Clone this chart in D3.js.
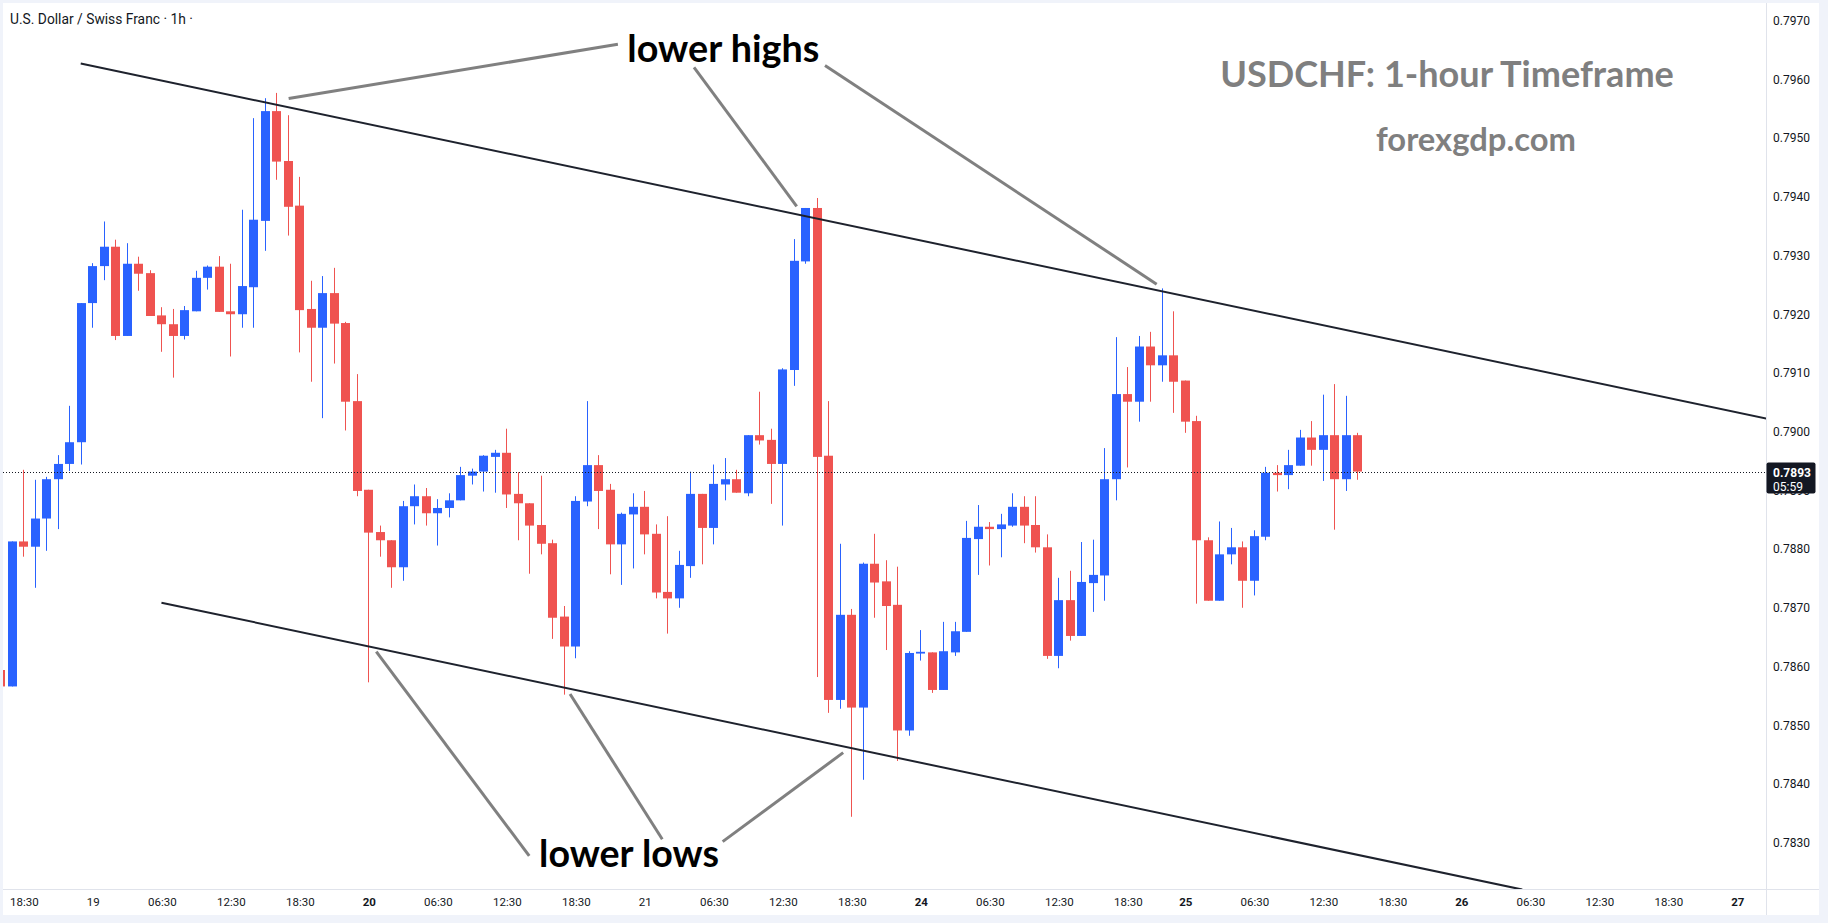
<!DOCTYPE html>
<html>
<head>
<meta charset="utf-8">
<script src="https://cdn.jsdelivr.net/npm/d3@7"></script>
<style>
  body { margin: 0; background: #f0f3fa; }
  svg { display: block; }
</style>
</head>
<body>
<script>
// hourly USDCHF candles (bar 0 is the half-hidden one at the left edge)
var opens = [
  0.78594, 0.78566, 0.78813, 0.78804, 0.78852, 0.78919, 0.78945, 0.78982, 0.79219, 0.79282,
  0.79315, 0.79163, 0.79286, 0.79270, 0.79198, 0.79183, 0.79163, 0.79205, 0.79262, 0.79281,
  0.79205, 0.79200, 0.79246, 0.79359, 0.79546, 0.79461, 0.79385, 0.79209, 0.79177, 0.79236,
  0.79185, 0.79052, 0.78901, 0.78829, 0.78815, 0.78769, 0.78873, 0.78890, 0.78861, 0.78870,
  0.78883, 0.78925, 0.78932, 0.78957, 0.78964, 0.78894, 0.78878, 0.78841, 0.78810, 0.78685,
  0.78634, 0.78881, 0.78943, 0.78901, 0.78808, 0.78859, 0.78872, 0.78826, 0.78727, 0.78716,
  0.78771, 0.78894, 0.78836, 0.78910, 0.78919, 0.78895, 0.78994, 0.78986, 0.78945, 0.79105,
  0.79290, 0.79381, 0.78959, 0.78543, 0.78688, 0.78530, 0.78775, 0.78745, 0.78705, 0.78491,
  0.78622, 0.78624, 0.78560, 0.78624, 0.78659, 0.78817, 0.78838, 0.78834, 0.78840, 0.78872,
  0.78841, 0.78803, 0.78618, 0.78713, 0.78652, 0.78742, 0.78755, 0.78919, 0.79064, 0.79051,
  0.79145, 0.79113, 0.79130, 0.79087, 0.79018, 0.78815, 0.78712, 0.78791, 0.78803, 0.78746,
  0.78821, 0.78930, 0.78926, 0.78942, 0.78990, 0.78969, 0.78994, 0.78919, 0.78994
]
var highs = [
  0.78594, 0.78813, 0.78935, 0.78918, 0.78923, 0.78960, 0.79044, 0.79219, 0.79287, 0.79358,
  0.79327, 0.79321, 0.79298, 0.79275, 0.79212, 0.79209, 0.79214, 0.79274, 0.79283, 0.79299,
  0.79286, 0.79378, 0.79534, 0.79568, 0.79577, 0.79539, 0.79434, 0.79257, 0.79265, 0.79279,
  0.79187, 0.79098, 0.78901, 0.78840, 0.78815, 0.78882, 0.78910, 0.78904, 0.78885, 0.78895,
  0.78940, 0.78937, 0.78960, 0.78969, 0.79005, 0.78931, 0.78878, 0.78925, 0.78816, 0.78703,
  0.78890, 0.79052, 0.78960, 0.78911, 0.78862, 0.78895, 0.78899, 0.78842, 0.78856, 0.78797,
  0.78932, 0.78894, 0.78944, 0.78955, 0.78935, 0.78994, 0.79068, 0.79005, 0.79108, 0.79328,
  0.79381, 0.79398, 0.79052, 0.78809, 0.78698, 0.78777, 0.78826, 0.78781, 0.78770, 0.78626,
  0.78662, 0.78624, 0.78676, 0.78676, 0.78848, 0.78875, 0.78846, 0.78860, 0.78895, 0.78890,
  0.78890, 0.78825, 0.78751, 0.78763, 0.78812, 0.78816, 0.78972, 0.79161, 0.79110, 0.79163,
  0.79170, 0.79244, 0.79205, 0.79087, 0.79027, 0.78820, 0.78847, 0.78836, 0.78813, 0.78832,
  0.78940, 0.78943, 0.78969, 0.79003, 0.79018, 0.79063, 0.79081, 0.79061, 0.78998
]
var lows = [
  0.78566, 0.78566, 0.78787, 0.78734, 0.78797, 0.78834, 0.78933, 0.78944, 0.79177, 0.79258,
  0.79156, 0.79163, 0.79240, 0.79197, 0.79136, 0.79092, 0.79157, 0.79205, 0.79242, 0.79204,
  0.79128, 0.79177, 0.79177, 0.79308, 0.79429, 0.79334, 0.79135, 0.79085, 0.79023, 0.79116,
  0.79002, 0.78890, 0.78573, 0.78787, 0.78734, 0.78746, 0.78842, 0.78840, 0.78806, 0.78854,
  0.78883, 0.78910, 0.78898, 0.78896, 0.78870, 0.78815, 0.78758, 0.78791, 0.78647, 0.78552,
  0.78614, 0.78873, 0.78834, 0.78757, 0.78739, 0.78767, 0.78791, 0.78716, 0.78656, 0.78700,
  0.78751, 0.78774, 0.78808, 0.78883, 0.78896, 0.78890, 0.78978, 0.78877, 0.78840, 0.79078,
  0.79286, 0.78582, 0.78521, 0.78528, 0.78344, 0.78407, 0.78683, 0.78628, 0.78439, 0.78482,
  0.78610, 0.78555, 0.78560, 0.78618, 0.78659, 0.78756, 0.78772, 0.78786, 0.78838, 0.78810,
  0.78794, 0.78613, 0.78597, 0.78644, 0.78652, 0.78693, 0.78712, 0.78883, 0.78939, 0.79017,
  0.79051, 0.79085, 0.79032, 0.78998, 0.78707, 0.78712, 0.78712, 0.78774, 0.78700, 0.78721,
  0.78815, 0.78898, 0.78902, 0.78942, 0.78942, 0.78916, 0.78833, 0.78899, 0.78918
]
var closes = [
  0.78566, 0.78813, 0.78804, 0.78852, 0.78919, 0.78945, 0.78982, 0.79219, 0.79282, 0.79315,
  0.79163, 0.79286, 0.79269, 0.79197, 0.79183, 0.79163, 0.79207, 0.79262, 0.79281, 0.79204,
  0.79200, 0.79248, 0.79361, 0.79546, 0.79460, 0.79383, 0.79207, 0.79177, 0.79236, 0.79184,
  0.79051, 0.78899, 0.78828, 0.78815, 0.78769, 0.78873, 0.78890, 0.78861, 0.78870, 0.78883,
  0.78926, 0.78932, 0.78959, 0.78964, 0.78893, 0.78878, 0.78840, 0.78809, 0.78683, 0.78634,
  0.78882, 0.78943, 0.78899, 0.78808, 0.78860, 0.78872, 0.78825, 0.78726, 0.78716, 0.78773,
  0.78894, 0.78836, 0.78911, 0.78919, 0.78896, 0.78994, 0.78985, 0.78945, 0.79106, 0.79291,
  0.79381, 0.78957, 0.78543, 0.78688, 0.78530, 0.78775, 0.78743, 0.78703, 0.78491, 0.78623,
  0.78625, 0.78560, 0.78626, 0.78660, 0.78819, 0.78838, 0.78834, 0.78842, 0.78872, 0.78840,
  0.78803, 0.78618, 0.78713, 0.78652, 0.78744, 0.78756, 0.78919, 0.79064, 0.79051, 0.79145,
  0.79113, 0.79130, 0.79085, 0.79017, 0.78815, 0.78712, 0.78791, 0.78803, 0.78746, 0.78822,
  0.78930, 0.78926, 0.78943, 0.78990, 0.78969, 0.78994, 0.78919, 0.78994, 0.78932
]

var priceTicks = [0.7830, 0.7840, 0.7850, 0.7860, 0.7870, 0.7880, 0.7890, 0.7900,
                  0.7910, 0.7920, 0.7930, 0.7940, 0.7950, 0.7960, 0.7970]

// bar index of each time label
var timeTicks = [2, 8, 14, 20, 26, 32, 38, 44, 50, 56, 62, 68, 74, 80, 86, 92, 98,
                 103, 109, 115, 121, 127, 133, 139, 145, 151]
var timeLabels = ["18:30", "19", "06:30", "12:30", "18:30", "20", "06:30", "12:30", "18:30",
                  "21", "06:30", "12:30", "18:30", "24", "06:30", "12:30", "18:30",
                  "25", "06:30", "12:30", "18:30", "26", "06:30", "12:30", "18:30", "27"]
var boldLabels = ["20", "24", "25", "26", "27"]

// drawings, as [bar, price] pairs
var upperTrend = [[6.95, 0.79627], [153.6, 0.79022]]
var lowerTrend = [[13.97, 0.787087], [132.3, 0.782200]]
var highPointers = [
  [[25.03, 0.795675], [53.66, 0.796598]],
  [[60.28, 0.796205], [69.21, 0.793839]],
  [[71.67, 0.796237], [100.51, 0.792512]]
]
var lowPointers = [
  [[32.65, 0.786252], [45.95, 0.782773]],
  [[49.50, 0.785532], [57.52, 0.783057]],
  [[73.25, 0.784532], [62.77, 0.783016]]
]

var W = 1828, H = 923
var plotLeft = 3, plotTop = 3, plotRight = 1766, plotBottom = 889
var frameRight = 1819, frameBottom = 915
var blue = "#2962ff", red = "#ef5350", ink = "#131722", line = "#e0e3eb"

var svg = d3.select("body").append("svg")
    .attr("width", W)
    .attr("height", H)
    .style("font-family", "Roboto, 'Trebuchet MS', sans-serif")

svg.append("rect").attr("width", W).attr("height", H).attr("fill", "#f0f3fa")
svg.append("rect")
    .attr("x", 3).attr("y", 3)
    .attr("width", frameRight - 3).attr("height", frameBottom - 3)
    .attr("fill", "#ffffff")

var x = d3.scaleLinear().domain([0, 152]).range([0.8, 0.8 + 152 * 11.5])
var y = d3.scaleLinear().domain([0.783, 0.797]).range([842.6, 20.7])

svg.append("clipPath").attr("id", "plotclip")
    .append("rect")
    .attr("x", plotLeft).attr("y", plotTop)
    .attr("width", plotRight - plotLeft).attr("height", plotBottom - plotTop)

var plot = svg.append("g").attr("clip-path", "url(#plotclip)")

// candles
var candles = d3.range(opens.length).map(function (i) {
    return { i: i, o: opens[i], h: highs[i], l: lows[i], c: closes[i] }
})
var bodyW = 9
function left(d) { return Math.round(x(d.i) - bodyW / 2) }
function col(d) { return d.c >= d.o ? blue : red }

plot.selectAll("line.wick")
    .data(candles)
    .enter()
    .append("line")
    .attr("class", "wick")
    .attr("x1", function (d) { return left(d) + 4.5 })
    .attr("x2", function (d) { return left(d) + 4.5 })
    .attr("y1", function (d) { return y(d.h) })
    .attr("y2", function (d) { return y(d.l) })
    .attr("stroke", col)
    .attr("stroke-width", 1)

plot.selectAll("rect.body")
    .data(candles)
    .enter()
    .append("rect")
    .attr("class", "body")
    .attr("x", left)
    .attr("width", bodyW)
    .attr("y", function (d) { return y(Math.max(d.o, d.c)) })
    .attr("height", function (d) { return Math.max(1, y(Math.min(d.o, d.c)) - y(Math.max(d.o, d.c))) })
    .attr("fill", col)

// last price dotted line
var lastClose = closes[closes.length - 1]
var yLast = Math.round(y(lastClose)) + 0.5
plot.append("line")
    .attr("x1", plotLeft).attr("x2", plotRight)
    .attr("y1", yLast).attr("y2", yLast)
    .attr("stroke", ink)
    .attr("stroke-width", 1)
    .attr("stroke-dasharray", "1,2")

// channel lines
var pathOf = d3.line().x(function (p) { return x(p[0]) }).y(function (p) { return y(p[1]) })
plot.selectAll("path.trend")
    .data([upperTrend, lowerTrend])
    .enter()
    .append("path")
    .attr("class", "trend")
    .attr("d", pathOf)
    .attr("fill", "none")
    .attr("stroke", "#1e222d")
    .attr("stroke-width", 2)

// grey pointers
plot.selectAll("path.pointer")
    .data(highPointers.concat(lowPointers))
    .enter()
    .append("path")
    .attr("class", "pointer")
    .attr("d", pathOf)
    .attr("fill", "none")
    .attr("stroke", "#808080")
    .attr("stroke-width", 3)

function fitText(t, width) {
    var w = t.node().getComputedTextLength()
    t.attr("font-size", parseFloat(t.attr("font-size")) * width / w)
}

var hiText = plot.append("text")
    .attr("x", x(62.83)).attr("y", y(0.79630))
    .attr("text-anchor", "middle")
    .attr("font-family", "Lato, 'Noto Sans', sans-serif")
    .attr("font-weight", "bold")
    .attr("font-size", 36)
    .attr("fill", "#000")
    .text("lower highs")
fitText(hiText, 192)

var loText = plot.append("text")
    .attr("x", x(54.63)).attr("y", y(0.782585))
    .attr("text-anchor", "middle")
    .attr("font-family", "Lato, 'Noto Sans', sans-serif")
    .attr("font-weight", "bold")
    .attr("font-size", 36)
    .attr("fill", "#000")
    .text("lower lows")
fitText(loText, 180)

var wm1 = plot.append("text")
    .attr("x", 1447).attr("y", 87)
    .attr("text-anchor", "middle")
    .attr("font-family", "Lato, 'Noto Sans', sans-serif")
    .attr("font-weight", "bold")
    .attr("font-size", 34)
    .attr("fill", "#7f7f7f")
    .text("USDCHF: 1-hour Timeframe")
fitText(wm1, 454)

var wm2 = plot.append("text")
    .attr("x", 1476).attr("y", 151)
    .attr("text-anchor", "middle")
    .attr("font-family", "Lato, 'Noto Sans', sans-serif")
    .attr("font-weight", "bold")
    .attr("font-size", 32)
    .attr("fill", "#7f7f7f")
    .text("forexgdp.com")
fitText(wm2, 200)

// legend title
svg.append("text")
    .attr("x", 10).attr("y", 24)
    .attr("font-size", 13.8)
    .attr("fill", ink)
    .text("U.S. Dollar / Swiss Franc · 1h ·")

// axes separators
svg.append("line")
    .attr("x1", plotRight + 0.5).attr("x2", plotRight + 0.5)
    .attr("y1", 3).attr("y2", frameBottom)
    .attr("stroke", line)
svg.append("line")
    .attr("x1", 3).attr("x2", frameRight)
    .attr("y1", plotBottom + 0.5).attr("y2", plotBottom + 0.5)
    .attr("stroke", line)

// price axis
var yAxis = svg.append("g")
    .attr("transform", "translate(" + plotRight + ",0)")
    .call(d3.axisRight(y).tickValues(priceTicks).tickSize(0).tickPadding(7).tickFormat(d3.format(".4f")))
yAxis.select(".domain").remove()
yAxis.selectAll("text")
    .attr("font-family", "Roboto, sans-serif")
    .attr("font-size", 12)
    .attr("fill", ink)

// time axis
var xAxis = svg.append("g")
    .attr("transform", "translate(0," + plotBottom + ")")
    .call(d3.axisBottom(x).tickValues(timeTicks).tickSize(0).tickPadding(9)
        .tickFormat(function (d, i) { return timeLabels[i] }))
xAxis.select(".domain").remove()
xAxis.selectAll("text")
    .attr("font-family", "Roboto, sans-serif")
    .attr("font-size", 11.5)
    .attr("fill", ink)
    .attr("font-weight", function (d, i) { return boldLabels.indexOf(timeLabels[i]) >= 0 ? "bold" : "normal" })

// last price tag
var tag = svg.append("g")
tag.append("rect")
    .attr("x", plotRight + 0.5).attr("y", yLast - 10)
    .attr("width", 49).attr("height", 31)
    .attr("rx", 2)
    .attr("fill", ink)
tag.append("text")
    .attr("x", 1773).attr("y", yLast + 4)
    .attr("font-size", 12)
    .attr("font-weight", "bold")
    .attr("fill", "#ffffff")
    .text(d3.format(".4f")(lastClose))
tag.append("text")
    .attr("x", 1773).attr("y", yLast + 18)
    .attr("font-size", 12)
    .attr("fill", "#ffffff")
    .text("05:59")
</script>
</body>
</html>
